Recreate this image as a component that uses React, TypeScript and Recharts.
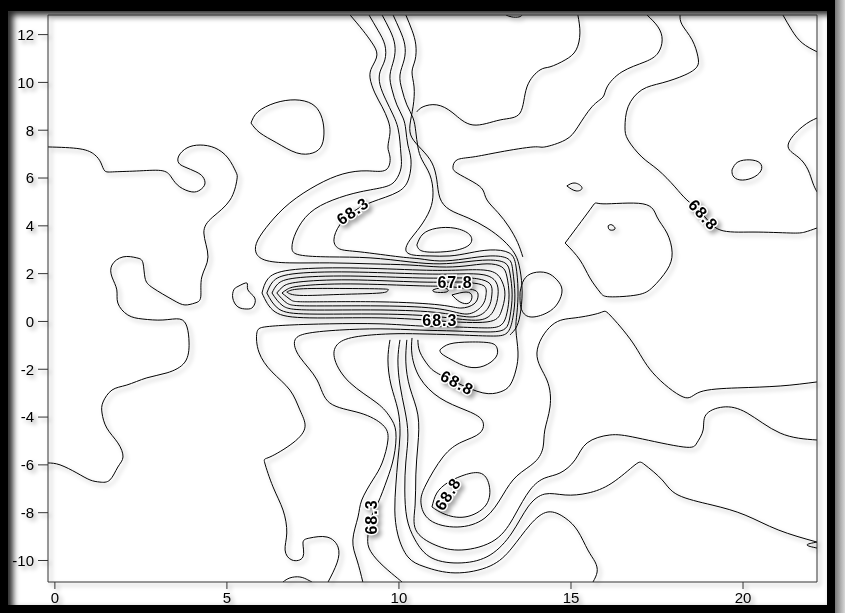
import { ComposedChart, Line, Scatter, XAxis, YAxis } from 'recharts'

type Pt = [number, number]

const X_TICKS = [0, 5, 10, 15, 20]
const Y_TICKS = [-10, -8, -6, -4, -2, 0, 2, 4, 6, 8, 10, 12]
const X_DOMAIN: [number, number] = [-0.2, 22.15]
const Y_DOMAIN: [number, number] = [-10.9, 12.82]

// contour polylines, [x, y] in plot units
const westLine: Pt[] = [
  [-0.2, 7.3], [0.73, 7.22], [1.16, 6.97], [1.34, 6.63], [1.45, 6.3], [1.74, 6.26], [2.47, 6.3], [3.14, 6.3],
  [3.4, 6.0], [3.63, 5.63], [3.98, 5.42], [4.22, 5.5], [4.36, 5.75], [4.3, 6.05], [4.1, 6.26], [3.78, 6.46],
  [3.6, 6.63], [3.6, 6.92], [3.84, 7.26], [4.22, 7.38], [4.65, 7.26], [5.03, 6.84], [5.26, 6.26], [5.29, 5.92],
  [5.09, 5.08], [4.59, 4.37], [4.33, 3.7], [4.45, 2.7], [4.27, 1.86], [4.24, 1.03], [4.07, 0.77], [3.78, 0.69],
  [3.43, 0.9], [2.85, 1.4], [2.62, 1.82], [2.56, 2.45], [2.38, 2.66], [1.98, 2.7], [1.66, 2.36], [1.66, 1.86],
  [1.8, 1.32], [1.83, 0.77], [2.12, 0.27], [2.56, 0.1], [3.14, 0.06], [3.63, 0.1], [3.84, -0.23], [3.9, -0.9],
  [3.78, -1.7], [3.26, -2.15], [2.67, -2.36], [2.09, -2.66], [1.66, -2.87], [1.4, -3.37], [1.37, -3.83],
  [1.51, -4.46], [1.83, -5.08], [1.98, -5.67], [1.83, -6.09], [1.6, -6.63], [1.31, -6.72], [1.02, -6.63],
  [0.64, -6.34], [0.15, -6.0], [-0.2, -5.92],
]
const blobNW: Pt[] = [
  [5.7, 8.3], [5.9, 8.77], [6.4, 9.14], [6.98, 9.27], [7.47, 9.1], [7.73, 8.64], [7.82, 8.01], [7.76, 7.38],
  [7.5, 7.05], [7.03, 7.05], [6.45, 7.47], [5.96, 7.89], [5.7, 8.3],
]
const blobW: Pt[] = [
  [5.29, 1.44], [5.58, 1.61], [5.61, 1.32], [5.81, 0.98], [5.76, 0.61], [5.58, 0.52], [5.32, 0.61], [5.17, 0.98],
  [5.2, 1.32], [5.29, 1.44],
]

// the low "tongue", nested closed rings
const ring0: Pt[] = [
  [6.02, 1.19], [6.19, 1.78], [6.83, 2.15], [8.58, 2.24], [10.61, 2.15], [11.77, 2.15], [12.65, 2.11], [12.99, 1.69],
  [13.08, 1.11], [12.97, 0.4], [12.56, -0.02], [11.19, 0.02], [9.45, 0.15], [7.41, 0.15], [6.4, 0.4], [6.02, 1.19],
]
const ring1: Pt[] = [
  [6.16, 1.19], [6.34, 1.67], [6.92, 1.99], [8.58, 2.07], [10.61, 1.99], [11.77, 1.99], [12.47, 1.95], [12.82, 1.65],
  [12.88, 1.11], [12.76, 0.48], [12.33, 0.06], [11.19, 0.19], [9.45, 0.31], [7.41, 0.31], [6.51, 0.52], [6.16, 1.19],
]
const ring2: Pt[] = [
  [6.31, 1.19], [6.48, 1.57], [7.01, 1.82], [8.58, 1.9], [10.61, 1.82], [11.77, 1.82], [12.3, 1.78], [12.65, 1.57],
  [12.7, 1.11], [12.59, 0.56], [12.15, 0.19], [11.19, 0.36], [9.45, 0.48], [7.41, 0.48], [6.63, 0.65], [6.31, 1.19],
]
const ring3: Pt[] = [
  [6.45, 1.19], [6.63, 1.46], [7.09, 1.65], [8.58, 1.74], [10.61, 1.65], [11.77, 1.65], [12.12, 1.61], [12.47, 1.49],
  [12.53, 1.11], [12.41, 0.65], [11.98, 0.31], [11.19, 0.52], [9.45, 0.65], [7.41, 0.65], [6.74, 0.77], [6.45, 1.19],
]
const ring4: Pt[] = [
  [6.6, 1.19], [6.77, 1.36], [7.18, 1.49], [8.58, 1.57], [10.61, 1.49], [11.34, 1.47], [11.83, 1.4], [12.21, 1.3],
  [12.3, 1.07], [12.18, 0.73], [11.8, 0.56], [11.19, 0.69], [9.45, 0.82], [7.41, 0.82], [6.86, 0.9], [6.6, 1.19],
]
const spike: Pt[] = [
  [6.74, 1.23], [7.12, 1.36], [8.28, 1.38], [9.51, 1.36], [9.68, 1.3], [9.45, 1.19], [8.28, 1.13], [7.12, 1.09], [6.74, 1.23],
]
const dotA: Pt[] = [[10.99, 1.32], [11.19, 1.4], [11.4, 1.36], [11.37, 1.23], [11.05, 1.23], [10.99, 1.32]]
const dotB: Pt[] = [[11.54, 1.11], [11.95, 1.23], [12.12, 1.07], [12.03, 0.77], [11.77, 0.82], [11.54, 1.11]]
const eye: Pt[] = [
  [10.52, 3.2], [10.7, 3.66], [11.1, 3.9], [11.63, 3.9], [12.06, 3.62], [12.04, 3.2], [11.54, 2.95], [10.9, 2.9],
  [10.6, 3.0], [10.52, 3.2],
]
const underLoop: Pt[] = [
  [11.19, -1.19], [11.48, -0.94], [12.06, -0.86], [12.65, -0.9], [12.85, -1.11], [12.82, -1.49], [12.47, -1.86],
  [12.0, -1.9], [11.54, -1.61], [11.25, -1.36], [11.19, -1.19],
]
const southLoop: Pt[] = [
  [10.96, -7.76], [11.1, -7.18], [11.4, -6.76], [11.83, -6.46], [12.35, -6.34], [12.62, -6.84], [12.53, -7.68],
  [11.92, -8.18], [11.31, -8.05], [10.96, -7.76],
]

// contours from the top edge that wrap the tongue
const band1: Pt[] = [
  [8.58, 12.82], [8.95, 12.18], [9.22, 11.65], [9.36, 11.15], [9.22, 10.65], [9.16, 10.19], [9.3, 9.56], [9.51, 8.98],
  [9.68, 8.43], [9.74, 7.89], [9.68, 7.3], [9.74, 6.88], [9.62, 6.34], [9.07, 6.3], [8.37, 6.17], [7.62, 5.71],
  [6.83, 4.96], [6.25, 4.12], [5.9, 3.41], [5.84, 2.91], [6.1, 2.57], [6.83, 2.45], [7.99, 2.45], [9.16, 2.41],
  [10.32, 2.36], [11.19, 2.28], [11.92, 2.32], [12.56, 2.41], [12.99, 2.28], [13.14, 1.86], [13.2, 1.11],
  [13.14, 0.36], [12.97, -0.15], [12.5, -0.27], [11.63, -0.23], [10.61, -0.19], [9.45, -0.1], [7.99, -0.1],
  [6.83, -0.15], [6.1, -0.23], [5.87, -0.48], [5.93, -1.28], [6.31, -2.11], [6.83, -2.87], [7.12, -3.7],
  [7.27, -4.41], [6.92, -5.08], [6.25, -5.67], [6.1, -5.92], [6.34, -6.92], [6.63, -7.89], [6.74, -8.85],
  [6.69, -9.56], [6.89, -9.98], [7.21, -9.85], [7.21, -9.27], [7.41, -9.06], [7.91, -9.02], [8.23, -9.44],
  [8.2, -10.1], [7.94, -10.9],
]
const band2: Pt[] = [
  [9.13, 12.82], [9.39, 12.18], [9.59, 11.57], [9.59, 10.94], [9.45, 10.44], [9.45, 9.9], [9.62, 9.27], [9.83, 8.64],
  [9.97, 8.1], [10.03, 7.51], [10.06, 6.97], [10.06, 6.42], [9.91, 5.92], [9.59, 5.63], [8.87, 5.42], [8.08, 5.08],
  [7.41, 4.54], [7.01, 3.74], [6.89, 3.08], [7.12, 2.78], [7.99, 2.7], [9.16, 2.66], [10.32, 2.49], [11.19, 2.41],
  [11.92, 2.49], [12.59, 2.57], [13.08, 2.45], [13.23, 1.99], [13.29, 1.11], [13.23, 0.23], [13.08, -0.31],
  [12.56, -0.44], [11.63, -0.4], [10.61, -0.36], [9.45, -0.31], [8.28, -0.36], [7.41, -0.48], [6.98, -0.77],
  [7.12, -1.49], [7.62, -2.45], [7.99, -3.41], [8.87, -3.83], [9.53, -4.33], [9.68, -4.96], [9.51, -5.92],
  [9.24, -6.63], [8.92, -7.47], [8.81, -8.18], [8.66, -9.14], [8.78, -9.98], [8.95, -10.9],
]
const band3: Pt[] = [
  [9.51, 12.82], [9.74, 12.18], [9.88, 11.57], [9.85, 10.94], [9.74, 10.31], [9.8, 9.69], [9.94, 9.06], [10.12, 8.51],
  [10.2, 8.01], [10.26, 7.38], [10.35, 6.76], [10.29, 6.0], [9.97, 5.42], [9.22, 5.0], [8.66, 4.58], [8.28, 4.04],
  [8.11, 3.41], [8.28, 3.03], [8.87, 2.91], [10.03, 2.7], [10.61, 2.62], [11.19, 2.53], [11.92, 2.62], [12.65, 2.74],
  [13.17, 2.62], [13.31, 2.11], [13.37, 1.11], [13.31, 0.15], [13.14, -0.48], [12.65, -0.61], [11.63, -0.56],
  [10.61, -0.52], [9.74, -0.52], [8.72, -0.65], [8.2, -0.98], [8.14, -1.61], [8.58, -2.57], [9.36, -3.41],
  [9.74, -4.0], [9.91, -4.62], [9.85, -5.67], [9.65, -6.63], [9.39, -7.59], [9.16, -8.31], [9.1, -8.93],
  [9.13, -9.48], [9.45, -10.1], [9.88, -10.65], [10.09, -10.9],
]
const band4: Pt[] = [
  [9.83, 12.82], [10.03, 12.18], [10.17, 11.57], [10.15, 10.94], [10.03, 10.31], [10.09, 9.69], [10.23, 9.06],
  [10.41, 8.51], [10.49, 7.93], [10.55, 7.3], [10.67, 6.76], [10.9, 6.13], [10.99, 5.38], [10.9, 4.67], [10.61, 3.95],
  [10.32, 3.41], [10.2, 2.99], [10.41, 2.78], [10.9, 2.74], [11.48, 2.74], [12.06, 2.87], [12.65, 2.99], [13.2, 2.87],
  [13.4, 2.32], [13.46, 1.32], [13.43, 0.36], [13.4, -0.36], [13.46, -1.28], [13.4, -2.03], [13.23, -2.66],
  [12.94, -2.95], [12.44, -2.99], [11.69, -2.57], [11.1, -2.15], [10.84, -1.82], [10.61, -1.28], [10.55, -0.77],
]
const band5: Pt[] = [
  [10.2, 12.82], [10.38, 12.18], [10.49, 11.57], [10.47, 10.94], [10.38, 10.44], [10.44, 9.81], [10.41, 8.98],
  [10.32, 8.22], [10.38, 7.68], [10.67, 7.18], [10.96, 6.63], [11.1, 5.92], [11.19, 5.17], [11.48, 4.67],
  [12.01, 4.33], [12.56, 3.91], [13.02, 3.41], [13.37, 2.82], [13.52, 2.15], [13.58, 1.23], [13.52, 0.27],
  [13.4, -0.27], [13.23, -0.56],
]

// north-east contours
const neckArc: Pt[] = [
  [10.52, 8.77], [10.7, 8.98], [11.1, 9.06], [11.57, 8.72], [12.15, 8.22], [12.94, 8.43], [13.52, 8.72], [13.72, 9.81],
  [14.1, 10.52], [14.39, 10.65], [14.83, 10.94], [15.15, 11.36], [15.26, 12.07], [15.2, 12.82],
]
const ridgeN: Pt[] = [
  [17.21, 12.82], [17.53, 12.32], [17.65, 11.78], [17.53, 11.23], [17.15, 10.86], [16.48, 10.44], [16.05, 9.81],
  [15.93, 9.39], [15.61, 8.98], [15.2, 8.14], [14.83, 7.59], [14.24, 7.3], [13.9, 7.3], [12.94, 7.09], [12.15, 6.88],
  [11.69, 6.76], [11.57, 6.46], [11.69, 6.21], [12.15, 5.84], [12.44, 5.5], [12.56, 5.08], [12.88, 4.55],
  [13.2, 3.95], [13.45, 3.3], [13.6, 2.7],
]
const ridgeE: Pt[] = [
  [18.17, 12.82], [18.23, 12.41], [18.52, 11.78], [18.69, 11.07], [18.66, 10.65], [18.31, 10.31], [17.65, 9.98],
  [17.06, 9.69], [16.66, 8.98], [16.57, 8.14], [16.66, 7.59], [17.06, 6.88], [17.53, 6.34], [18.02, 5.63],
  [18.37, 5.08], [18.84, 4.46], [19.33, 3.83], [20.29, 3.74], [21.37, 3.7], [21.8, 3.74], [22.15, 3.91],
]
const cornerNE: Pt[] = [[21.16, 12.82], [21.42, 12.18], [21.72, 11.65], [22.15, 11.28]]
const bulgeE: Pt[] = [
  [22.15, 8.51], [21.72, 8.14], [21.31, 7.38], [21.6, 6.88], [21.89, 6.34], [22.03, 5.79], [22.15, 5.42],
]
const ringE: Pt[] = [
  [19.68, 6.34], [19.85, 6.67], [20.2, 6.76], [20.49, 6.63], [20.52, 6.3], [20.26, 6.0], [19.91, 5.92], [19.71, 6.09],
  [19.68, 6.34],
]
const speck1: Pt[] = [[14.88, 5.67], [15.12, 5.79], [15.32, 5.59], [15.15, 5.46], [14.88, 5.67]]
const bigRing: Pt[] = [
  [14.83, 3.28], [15.61, 4.79], [15.93, 4.92], [17.09, 4.92], [17.5, 4.37], [17.79, 3.7], [17.94, 2.87], [17.79, 2.15],
  [17.38, 1.44], [16.92, 1.11], [16.13, 1.03], [15.84, 1.23], [15.55, 1.82], [15.26, 2.57], [14.83, 3.28],
]
const speck2: Pt[] = [[16.08, 4.0], [16.19, 4.04], [16.28, 3.87], [16.13, 3.83], [16.08, 4.0]]
const ringMid: Pt[] = [
  [13.52, 1.23], [13.63, 1.74], [13.9, 2.03], [14.3, 2.03], [14.59, 1.74], [14.74, 1.32], [14.62, 0.77], [14.3, 0.36],
  [13.81, 0.19], [13.55, 0.56], [13.52, 1.23],
]
const topNick: Pt[] = [[13.11, 12.82], [13.28, 12.74], [13.49, 12.74], [13.58, 12.82]]

// south-east contours
const sweep1: Pt[] = [
  [22.15, -2.53], [21.08, -2.7], [19.83, -2.78], [18.75, -2.95], [18.26, -3.16], [17.38, -2.15], [16.8, -0.9],
  [16.13, 0.27], [15.84, 0.36], [15.12, 0.15], [14.45, -0.15], [14.01, -1.32], [14.3, -2.45], [14.39, -3.58],
  [14.24, -4.54], [14.19, -5.25], [13.95, -5.88], [13.43, -6.46], [13.02, -7.26], [12.5, -8.22], [11.69, -8.6],
  [10.9, -8.31], [10.64, -7.59], [10.78, -6.84], [11.28, -5.67], [11.83, -5.04], [12.35, -4.67], [12.41, -4.12],
  [11.92, -3.7], [11.19, -3.2], [10.61, -2.36], [10.38, -1.4], [10.38, -0.69],
]
const sweep2: Pt[] = [
  [22.15, -4.96], [21.08, -4.67], [20.12, -3.83], [19.42, -3.58], [18.92, -3.91], [18.84, -4.54], [18.66, -5.08],
  [18.26, -5.25], [16.92, -4.87], [16.13, -4.75], [15.47, -5.08], [15.12, -5.79], [14.68, -6.34], [14.24, -6.55],
  [13.81, -7.05], [13.37, -8.1], [12.79, -9.14], [11.83, -9.56], [11.05, -9.35], [10.49, -8.72], [10.47, -7.68],
  [10.49, -6.42], [10.55, -5.17], [10.55, -3.91], [10.32, -2.78], [10.2, -1.69], [10.23, -0.77],
]
const sweep3: Pt[] = [
  [22.15, -9.23], [21.02, -8.72], [20.06, -8.1], [19.1, -7.68], [18.11, -7.26], [17.65, -6.63], [17.15, -6.0],
  [16.86, -6.0], [16.19, -6.76], [15.49, -7.18], [14.83, -7.26], [14.24, -7.22], [13.75, -7.76], [13.28, -8.85],
  [12.65, -9.77], [11.83, -10.1], [10.96, -9.9], [10.47, -9.14], [10.23, -8.22], [10.17, -7.05], [10.2, -5.88],
  [10.26, -4.75], [10.17, -3.7], [10.03, -2.66], [9.97, -1.61], [10.03, -0.77],
]
const sweep4: Pt[] = [
  [15.64, -10.9], [15.76, -10.48], [15.7, -10.06], [15.49, -9.56], [15.2, -8.77], [14.83, -8.22], [14.33, -7.97],
  [13.81, -8.51], [13.28, -9.48], [12.65, -10.23], [11.63, -10.52], [10.76, -10.27], [10.26, -9.85], [9.97, -8.93],
  [9.88, -7.89], [9.91, -6.84], [9.97, -5.79], [10.03, -4.75], [9.97, -3.7], [9.77, -2.66], [9.68, -1.61], [9.74, -0.77],
]
const wedgeE: Pt[] = [[22.15, -9.23], [21.86, -9.35], [22.15, -9.48]]
const bottomNick: Pt[] = [[6.63, -10.9], [6.83, -10.73], [7.12, -10.69], [7.35, -10.81], [7.47, -10.9]]

const contours: Pt[][] = [
  westLine, blobNW, blobW, ring0, ring1, ring2, ring3, ring4, spike, dotA, dotB, eye, underLoop, southLoop,
  band1, band2, band3, band4, band5, neckArc, ridgeN, ridgeE, cornerNE, bulgeE, ringE, speck1, bigRing, speck2,
  ringMid, topNick, sweep1, sweep2, sweep3, sweep4, wedgeE, bottomNick,
]

const contourLabels = [
  { x: 8.66, y: 4.61, text: '68.3', angle: -35 },
  { x: 11.63, y: 1.65, text: '67.8', angle: 0 },
  { x: 11.19, y: 0.02, text: '68.3', angle: 0 },
  { x: 11.69, y: -2.57, text: '68.8', angle: 28 },
  { x: 11.42, y: -7.22, text: '68.8', angle: -58 },
  { x: 9.19, y: -8.18, text: '68.3', angle: -90 },
  { x: 18.84, y: 4.46, text: '68.8', angle: 48 },
]

const FONT = '"Liberation Sans", Arial, sans-serif'
const tickStyle = { fill: '#000', fontSize: 15, fontFamily: FONT }

function LabelText(props: any) {
  const { cx, cy } = props
  const p = props.payload ?? props
  if (cx == null || cy == null) return null
  return (
    <text
      x={cx}
      y={cy}
      transform={`rotate(${p.angle} ${cx} ${cy})`}
      textAnchor="middle"
      dominantBaseline="central"
      fontFamily={FONT}
      fontWeight="bold"
      fontSize={16}
      letterSpacing={1}
      fill="#000"
      stroke="#fff"
      strokeWidth={3}
      paintOrder="stroke"
    >
      {p.text}
    </text>
  )
}

export default function App() {
  return (
    <div style={{ position: 'absolute', left: 0, top: 0, width: 845, height: 613, background: '#000' }}>
      <div style={{ position: 'absolute', left: 835, top: 0, width: 10, height: 613, background: 'linear-gradient(to right, #777, #d8d8d8)' }} />
      <div
        style={{
          position: 'absolute', left: 8, top: 11, width: 819, height: 594, background: '#fff',
          boxShadow: 'inset 5px 4px 6px rgba(0,0,0,0.85)',
        }}
      />
      <div style={{ position: 'absolute', left: 0, top: 0, filter: 'drop-shadow(3px 3px 2px rgba(0,0,0,0.35))' }}>
        <ComposedChart width={845} height={613} margin={{ top: 10, right: 18, bottom: 6, left: 8 }}>
          <XAxis
            xAxisId="b" dataKey="x" type="number" domain={X_DOMAIN} ticks={X_TICKS} allowDataOverflow
            height={25} tickSize={7} tickMargin={3} tick={tickStyle}
            stroke="#333" tickLine={{ stroke: '#333' }}
          />
          <XAxis
            xAxisId="t" orientation="top" type="number" domain={X_DOMAIN} ticks={X_TICKS} allowDataOverflow
            height={5} tickSize={4} tick={false} stroke="#333"
          />
          <YAxis
            yAxisId="l" type="number" domain={Y_DOMAIN} ticks={Y_TICKS} allowDataOverflow
            width={40} tickSize={10} tickMargin={4} tick={tickStyle}
            stroke="#333" tickLine={{ stroke: '#333' }}
          />
          <YAxis
            yAxisId="r" orientation="right" type="number" domain={Y_DOMAIN} ticks={Y_TICKS} allowDataOverflow
            width={10} tickSize={8} tick={false} stroke="#333"
          />
          {contours.map((pts, i) => (
            <Line
              key={i}
              xAxisId="b"
              yAxisId="l"
              data={pts.map(([x, y]) => ({ x, y }))}
              dataKey="y"
              type="natural"
              stroke="#000"
              strokeWidth={1}
              dot={false}
              activeDot={false}
              isAnimationActive={false}
            />
          ))}
          <Scatter
            xAxisId="b"
            yAxisId="l"
            data={contourLabels}
            dataKey="y"
            shape={<LabelText />}
            isAnimationActive={false}
          />
        </ComposedChart>
      </div>
    </div>
  )
}
